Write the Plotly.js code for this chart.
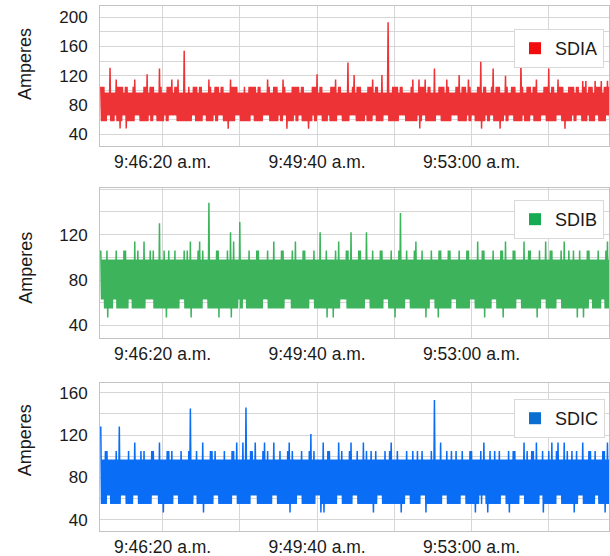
<!DOCTYPE html>
<html>
<head>
<meta charset="utf-8">
<script src="https://cdn.plot.ly/plotly-3.0.1.min.js"></script>
<style>
  html, body { margin: 0; padding: 0; background: #ffffff; }
  #chart { width: 610px; height: 556px; }
</style>
</head>
<body>
<div id="chart"></div>
<script>
// Seconds after 9:45:00 a.m.; one reading per second
const startSecond = 0;
const stepSeconds = 1;

const timeTickSeconds = [80, 180, 280, 380, 480, 580];
const timeTickLabels = ['9:46:20 a.m.', '', '9:49:40 a.m.', '', '9:53:00 a.m.', ''];

const seriesNames = ['SDIA', 'SDIB', 'SDIC'];

const sdiaValues = [
  105,58,105,58, 105,58,97,58, 97,66,97,66, 131,58,97,58, 97,58,97,66,
  115,58,105,58, 105,48,105,58, 105,66,97,66, 105,48,105,58, 97,58,97,58,
  97,58,105,58, 115,66,97,66, 97,66,97,58, 97,58,97,58, 105,58,105,58,
  122,58,97,66, 105,58,105,58, 105,66,97,66, 97,58,97,58, 130,58,105,58,
  97,58,97,66, 97,58,105,58, 105,66,105,66, 115,66,97,66, 105,66,105,58,
  115,58,97,58, 97,58,97,58, 154,58,97,58, 97,58,105,58, 97,58,97,66,
  105,66,105,58, 105,58,97,58, 105,58,105,58, 97,66,97,66, 97,58,97,58,
  115,58,105,58, 97,58,97,66, 105,58,105,58, 105,66,97,66, 105,66,105,58,
  97,58,97,58, 97,48,97,58, 115,58,105,58, 105,58,105,66, 105,66,97,66,
  97,58,97,58, 97,58,105,58, 97,58,97,58, 105,58,105,66, 105,66,105,58,
  105,58,97,58, 105,58,105,58, 97,58,97,66, 97,66,97,66, 115,66,105,58,
  97,58,97,58, 105,58,105,58, 105,58,97,66, 97,58,97,58, 115,66,105,66,
  97,48,97,58, 97,58,97,58, 105,58,105,66, 105,58,105,58, 105,66,97,66,
  105,58,105,58, 97,58,97,58, 97,48,97,58, 97,58,105,66, 105,58,105,58,
  122,66,97,66, 105,66,105,58, 97,58,97,58, 97,58,97,66, 97,58,105,58,
  105,58,105,58, 115,58,97,66, 105,66,105,66, 97,58,97,58, 97,58,97,58,
  138,58,97,66, 97,66,105,66, 121,66,97,58, 105,58,105,58, 105,58,97,58,
  97,58,97,66, 97,58,105,58, 105,58,105,58, 115,66,97,66, 105,58,105,58,
  97,58,97,58, 121,58,97,66, 97,66,97,66, 193,58,97,58, 97,58,105,58,
  105,58,105,58, 105,58,97,66, 105,66,105,66, 97,66,97,58, 97,58,97,58,
  97,58,105,58, 115,58,97,58, 97,58,97,66, 115,48,105,58, 105,66,105,66,
  115,58,97,58, 105,58,105,58, 97,58,97,58, 130,58,97,66, 97,66,105,66,
  105,58,105,58, 105,58,97,58, 115,58,105,58, 97,58,97,66, 97,66,97,66,
  105,66,105,58, 121,58,97,58, 105,58,105,58, 105,58,97,66, 115,58,105,58,
  97,66,97,66, 97,58,97,58, 105,58,105,58, 139,48,97,58, 105,58,105,66,
  97,58,97,58, 97,66,105,66, 130,58,97,58, 105,58,105,58, 105,48,97,58,
  97,58,97,66, 120,58,105,58, 97,66,97,66, 105,66,105,58, 105,58,97,58,
  97,58,97,58, 139,58,105,66, 97,58,97,58, 105,58,105,58, 105,66,97,66,
  105,58,105,58, 115,58,97,58, 97,58,97,66, 97,66,105,66, 105,58,105,58,
  130,58,97,58, 105,58,105,58, 97,58,97,66, 115,66,105,66, 105,58,105,58,
  97,48,97,58, 97,58,105,58, 105,58,105,66, 105,58,97,58, 105,66,105,66,
  97,66,97,58, 113,58,105,58, 113,58,97,66, 105,58,105,58, 105,58,97,58,
  113,66,105,66, 105,58,105,58, 113,58,97,58, 105,58,105,66, 113,66,105,58
];

const sdibValues = [
  106,63,98,63, 98,55,98,55, 106,47,98,55, 98,55,98,55, 98,63,98,63,
  106,55,98,55, 98,55,98,55, 98,55,106,55, 106,55,98,55, 98,63,98,63,
  98,55,98,55, 114,55,98,55, 106,55,98,55, 98,55,98,55, 114,55,98,63,
  98,63,98,63, 106,63,98,63, 106,55,98,55, 98,55,98,55, 130,55,98,55,
  98,55,106,55, 98,47,98,55, 106,55,98,55, 98,55,98,55, 106,55,98,55,
  98,55,98,63, 98,63,98,63, 106,55,98,55, 106,55,98,55, 114,47,98,55,
  98,55,98,55, 98,55,106,55, 114,55,98,55, 106,63,98,63, 98,63,98,55,
  148,55,98,55, 98,55,98,55, 98,55,106,55, 106,47,98,55, 98,55,98,55,
  98,55,98,55, 106,55,98,55, 122,47,98,55, 114,55,98,55, 98,55,98,63,
  131,55,98,55, 98,63,98,63, 98,55,98,55, 106,55,98,55, 98,55,98,55,
  98,55,106,55, 106,55,98,55, 98,55,98,63, 98,63,98,63, 106,55,98,55,
  98,55,98,55, 114,55,98,55, 98,55,98,55, 98,55,106,55, 106,55,98,63,
  98,63,98,63, 98,63,98,55, 106,55,98,55, 114,55,98,55, 98,55,98,55,
  98,55,106,55, 106,55,98,55, 98,55,98,63, 98,63,98,63, 106,55,98,55,
  98,55,98,55, 122,55,98,55, 98,55,98,55, 106,47,98,55, 98,55,98,55,
  98,47,98,55, 106,55,98,55, 114,55,98,63, 98,63,98,63, 98,63,106,55,
  106,55,98,55, 122,55,98,55, 98,55,98,55, 98,55,106,55, 106,55,98,55,
  98,55,98,63, 122,63,98,63, 98,55,98,55, 106,55,98,55, 98,55,98,55,
  98,55,106,55, 106,55,98,63, 98,63,98,63, 98,55,98,55, 106,55,98,55,
  98,47,98,55, 98,55,106,55, 139,55,98,55, 98,55,98,63, 106,63,98,63,
  98,55,98,55, 98,55,106,55, 114,55,98,55, 98,55,98,55, 106,55,98,55,
  98,47,98,55, 98,55,98,63, 106,63,98,63, 98,55,98,55, 98,47,106,55,
  106,55,98,55, 98,55,98,55, 98,55,106,55, 106,55,98,63, 98,63,98,63,
  98,55,98,55, 106,55,98,55, 98,55,98,55, 98,55,106,55, 106,55,98,63,
  98,63,98,63, 98,55,98,55, 114,55,98,55, 98,55,106,55, 106,47,98,55,
  98,55,98,55, 98,55,98,63, 106,63,98,63, 98,55,98,55, 98,55,106,55,
  106,47,98,55, 114,55,98,55, 98,55,98,55, 98,55,106,55, 106,55,98,63,
  98,63,98,63, 98,55,98,55, 114,55,98,55, 98,55,106,55, 106,55,98,55,
  98,55,98,55, 98,47,98,55, 106,55,98,63, 98,63,98,63, 114,55,98,55,
  98,55,106,55, 106,55,98,55, 98,55,98,63, 98,63,98,63, 106,55,98,55,
  114,55,98,55, 98,55,106,55, 98,55,98,55, 106,55,98,55, 98,47,98,55,
  106,55,98,55, 98,47,98,55, 98,55,106,55, 106,63,98,63, 98,55,98,55,
  98,55,98,55, 106,55,98,55, 98,63,98,63, 98,55,106,55, 114,55,98,55
];

const sdicValues = [
  128,55,97,55, 97,55,105,55, 105,63,97,63, 97,55,97,55, 97,55,97,55,
  105,55,97,55, 128,55,97,63, 97,63,97,63, 97,55,97,55, 105,55,97,55,
  97,55,97,63, 113,63,97,63, 97,55,97,55, 105,55,97,55, 105,55,97,55,
  97,55,97,55, 97,55,105,63, 105,63,97,63, 97,63,97,55, 113,55,97,55,
  97,47,97,55, 97,55,105,55, 105,55,97,55, 105,55,97,63, 97,63,97,63,
  97,55,97,55, 105,55,97,55, 97,55,97,55, 97,55,105,55, 145,55,97,55,
  97,63,97,63, 105,55,97,55, 97,55,97,55, 113,47,97,55, 97,55,97,55,
  97,55,105,55, 105,55,97,63, 105,63,97,63, 97,55,97,55, 97,55,97,55,
  105,55,97,55, 97,55,97,55, 97,55,105,63, 105,63,97,63, 113,55,97,55,
  97,55,97,55, 113,55,97,55, 146,55,97,55, 97,55,105,63, 105,63,97,63,
  113,63,97,55, 97,55,97,55, 97,55,105,55, 113,55,97,55, 105,55,97,55,
  97,55,97,63, 113,63,97,63, 97,55,97,55, 105,55,97,55, 97,55,97,55,
  97,55,105,55, 113,47,97,55, 105,55,97,55, 97,55,97,63, 97,63,97,63,
  105,55,97,55, 97,55,97,55, 97,55,105,55, 121,55,97,55, 105,55,97,63,
  97,63,97,63, 97,47,97,55, 113,47,97,55, 97,55,105,55, 105,55,97,55,
  97,55,97,55, 97,55,97,63, 113,63,97,63, 105,55,97,55, 97,55,97,55,
  97,55,105,55, 113,55,97,63, 97,63,97,63, 105,55,97,55, 97,55,97,55,
  113,55,97,55, 105,55,97,55, 97,55,105,55, 97,47,97,55, 105,55,97,63,
  97,63,97,63, 97,55,97,55, 105,55,97,55, 97,55,105,55, 113,55,97,55,
  97,55,97,55, 105,55,97,55, 97,47,97,55, 97,55,97,63, 105,63,97,63,
  97,55,97,55, 105,55,97,55, 97,55,105,55, 97,55,97,63, 105,63,97,63,
  97,47,97,55, 97,55,97,55, 105,55,97,55, 153,55,97,55, 97,55,97,55,
  113,55,97,63, 97,63,97,63, 105,55,97,55, 97,55,105,55, 97,55,97,55,
  105,55,97,55, 97,55,97,63, 105,63,97,63, 97,55,97,55, 97,55,105,55,
  105,55,97,55, 97,47,97,55, 97,55,97,63, 105,55,97,63, 113,63,97,55,
  97,47,97,55, 105,55,97,55, 97,55,105,55, 97,55,97,55, 105,55,97,63,
  97,63,97,63, 97,55,97,55, 105,47,97,55, 97,55,105,55, 105,55,97,55,
  97,55,97,63, 97,63,97,63, 113,55,97,55, 105,55,97,55, 97,55,105,55,
  105,55,97,55, 113,55,97,55, 97,63,97,63, 105,47,97,55, 97,55,97,55,
  105,55,97,55, 113,55,97,55, 97,55,105,63, 113,63,97,63, 97,55,97,55,
  113,55,97,55, 105,55,97,55, 97,55,105,55, 97,47,97,55, 105,55,97,63,
  97,63,97,63, 113,55,97,55, 97,55,97,55, 105,55,105,55, 97,55,97,55,
  105,63,97,63, 97,55,97,55, 97,55,105,55, 105,47,97,55, 113,55,97,55
];

const topTickVals = [40, 60, 80, 100, 120, 140, 160, 180, 200];
const topTickText = ['40', '', '80', '', '120', '', '160', '', '200'];
const midTickVals = [40, 60, 80, 100, 120, 140, 160];
const midTickText = ['40', '', '80', '', '120', '', ''];
const botTickVals = [40, 60, 80, 100, 120, 140, 160];
const botTickText = ['40', '', '80', '', '120', '', '160'];

const lineColors = ['#ee3336', '#3db35c', '#0a6df5'];
const legendColors = ['#f20d0d', '#16aa52', '#0b6fd1'];

const FONT = '"Liberation Sans", Arial, sans-serif';

function lineTrace(vals, i, xa, ya) {
  return {
    type: 'scatter', mode: 'lines', y: vals, x0: startSecond, dx: stepSeconds,
    xaxis: xa, yaxis: ya, name: seriesNames[i], showlegend: false,
    line: { color: lineColors[i], width: 1.5, simplify: false }, hoverinfo: 'skip'
  };
}
function legendKey(i, xa, ya, lg) {
  return {
    type: 'scatter', mode: 'markers', x: [null], y: [null],
    xaxis: xa, yaxis: ya, name: seriesNames[i], legend: lg, showlegend: true,
    marker: { symbol: 'square', size: 12, color: legendColors[i] }
  };
}

const traces = [
  lineTrace(sdiaValues, 0, 'x', 'y'),
  lineTrace(sdibValues, 1, 'x2', 'y2'),
  lineTrace(sdicValues, 2, 'x3', 'y3'),
  legendKey(0, 'x', 'y', 'legend'),
  legendKey(1, 'x2', 'y2', 'legend2'),
  legendKey(2, 'x3', 'y3', 'legend3')
];

const gridC = '#d6d6d6';
const lineC = '#c4c4c4';
function xAxis(anchor) {
  return {
    anchor: anchor, domain: [0, 1], range: [-1, 658],
    tickmode: 'array', tickvals: timeTickSeconds, ticktext: timeTickLabels,
    ticks: '', showgrid: true, gridcolor: gridC, gridwidth: 1,
    showline: true, mirror: true, linecolor: lineC, linewidth: 1,
    zeroline: false, tickfont: { family: FONT, size: 17.5, color: '#1a1a1a' },
    ticklabelstandoff: 0
  };
}
function yAxis(anchor, dom, rng, tv, tt) {
  return {
    anchor: anchor, domain: dom, range: rng,
    tickmode: 'array', tickvals: tv, ticktext: tt,
    ticks: '', showgrid: true, gridcolor: gridC, gridwidth: 1,
    showline: true, mirror: true, linecolor: lineC, linewidth: 1,
    zeroline: false, tickfont: { family: FONT, size: 17, color: '#1a1a1a' },
    ticklabelstandoff: 8
  };
}
function legendBox(ytop) {
  return {
    x: 0.8134, y: ytop, xanchor: 'left', yanchor: 'top',
    xref: 'paper', yref: 'paper',
    bgcolor: '#ffffff', bordercolor: '#d9d9d9', borderwidth: 1,
    font: { family: FONT, size: 18, color: '#1a1a1a' }
  };
}
function ampLabel(y) {
  return {
    text: 'Amperes', xref: 'paper', yref: 'paper', x: -0.147, y: y,
    xanchor: 'center', yanchor: 'middle', textangle: -90, showarrow: false,
    font: { family: FONT, size: 18, color: '#1a1a1a' }
  };
}

const layout = {
  width: 610, height: 556,
  margin: { l: 100, r: 1, t: 6, b: 25 },
  paper_bgcolor: '#ffffff', plot_bgcolor: '#ffffff',
  font: { family: FONT, size: 17, color: '#1a1a1a' },
  xaxis: xAxis('y'),
  yaxis: yAxis('x', [0.7329, 1], [24, 215], topTickVals, topTickText),
  xaxis2: xAxis('y2'),
  yaxis2: yAxis('x2', [0.3676, 0.6533], [29, 161], midTickVals, midTickText),
  xaxis3: xAxis('y3'),
  yaxis3: yAxis('x3', [0, 0.2819], [29.6, 169], botTickVals, botTickText),
  legend: legendBox(0.9562),
  legend2: legendBox(0.6305),
  legend3: legendBox(0.2514),
  annotations: [ampLabel(0.8897), ampLabel(0.5019), ampLabel(0.173)],
  showlegend: true
};

Plotly.newPlot('chart', traces, layout, { staticPlot: true, displayModeBar: false });
</script>
</body>
</html>
